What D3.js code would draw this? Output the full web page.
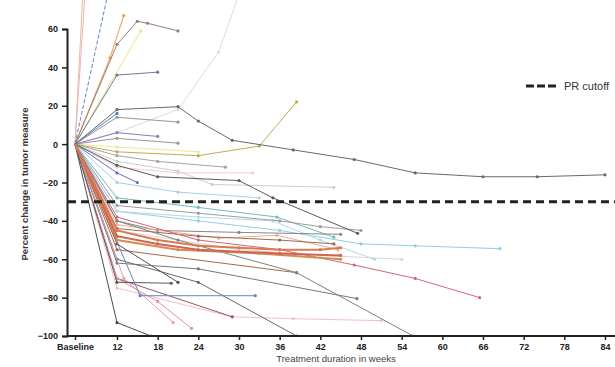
<!doctype html>
<html>
<head>
  <meta charset="utf-8">
  <style>
    body { margin: 0; background: #fff; }
    svg { display: block; font-family: "Liberation Sans", Arial, sans-serif; }
  </style>
  <script src="https://cdn.jsdelivr.net/npm/d3@7"></script>
</head>
<body>
  <script>
  // x ticks (weeks) and their labels
  var weekTicks = [0, 12, 18, 24, 30, 36, 42, 48, 54, 60, 66, 72, 78, 84];
  var weekLabels = ["Baseline", "12", "18", "24", "30", "36", "42", "48", "54", "60", "66", "72", "78", "84"];
  var pctTicks = [60, 40, 20, 0, -20, -40, -60, -80, -100];
  var prCutoff = -30;

  // one entry per patient: weeks of assessment and % change at each
  var seriesWeeks = [
    [0, 12, 21, 27, 30],
    [0, 12, 24],
    [0, 12, 21, 26, 44],
    [0, 12, 21, 32],
    [0, 12, 29, 38, 51],
    [0, 12, 30, 42, 54],
    [0, 12],
    [0, 12],
    [0, 15.5],
    [0, 12],
    [0, 10, 13],
    [0, 12, 15, 16.5, 21],
    [0, 12, 18],
    [0, 12, 21],
    [0, 12, 21],
    [0, 12],
    [0, 12, 18],
    [0, 12, 24, 33, 38.5],
    [0, 12, 18, 28],
    [0, 12, 15],
    [0, 12, 21, 33],
    [0, 12, 24, 36, 48, 56, 68.5],
    [0, 12, 24, 35.6, 44],
    [0, 12, 24, 35, 42, 50],
    [0, 12, 24, 36, 42, 48],
    [0, 12, 18, 30, 45],
    [0, 12, 27, 35.6, 44.6],
    [0, 12, 24, 36, 44],
    [0, 12, 24, 36, 47, 56, 65.5],
    [0, 12, 24, 47.4],
    [0, 12, 38.5],
    [0, 12, 21, 38.5, 55.7],
    [0, 12, 24, 38.5],
    [0, 12, 29],
    [0, 13, 20.3],
    [0, 12, 18, 23],
    [0, 12, 20],
    [0, 12, 21],
    [0, 15.4, 32.4],
    [0, 12, 17],
    [0, 12, 18, 30, 35, 47.5],
    [0, 12, 21, 33, 45],
    [0, 12, 18, 24, 36, 45],
    [0, 12, 18, 24, 30, 36, 42, 45],
    [0, 12, 21, 24, 29, 38, 47, 56, 66, 74, 84]
  ];
  var seriesValues = [
    [0, 6, 18, 48, 78],
    [0, -1.5, -4],
    [0, -9, -14, -21, -22.5],
    [0, -12, -15, -15],
    [0, -75, -90, -91, -92],
    [0, -45, -55, -58, -60],
    [0, 420],
    [0, 330],
    [0, 59],
    [0, 100],
    [0, 45, 67],
    [0, 52, 64, 63, 59],
    [0, 36, 37.5],
    [0, 14, 11.5],
    [0, 3, 0.5],
    [0, 16],
    [0, 6, 4],
    [0, -4, -6, -1, 22],
    [0, -6, -9, -12],
    [0, -15, -20],
    [0, -20, -25, -28],
    [0, -35, -40, -45, -52, -53, -54.5],
    [0, -28, -33, -38, -48.5],
    [0, -35, -38, -40, -50, -60],
    [0, -32, -36, -40, -43, -45],
    [0, -40, -45, -46, -47],
    [0, -42, -49, -47.5, -55],
    [0, -44, -48, -50, -52],
    [0, -38, -50, -55, -63, -70, -80],
    [0, -62, -65, -80.5],
    [0, -55, -67],
    [0, -40, -50, -67, -100],
    [0, -60, -72, -100],
    [0, -70, -90],
    [0, -70, -93],
    [0, -70, -82, -96],
    [0, -72, -72.5],
    [0, -52, -72],
    [0, -79, -79],
    [0, -93, -100],
    [0, -11, -17, -19, -28, -46.5],
    [0, -50, -55, -57, -60],
    [0, -48, -52, -55, -57, -58],
    [0, -45, -50, -53, -54, -55, -55, -54],
    [0, 18, 19.5, 12, 2, -3, -8, -15, -17, -17, -16]
  ];
  var seriesColors = [
    "#d8d8d8", "#ebe39a", "#c8c8c8", "#f2c4cc", "#f0b8c4", "#d8d0d0",
    "#e0b880", "#efa8b8", "#e6e27a", "#4a74c0", "#e8903a", "#8a7060",
    "#5a6e90", "#888888", "#8a8a8a", "#3b6cc8", "#8866aa", "#b8a040",
    "#999999", "#5a5ab0", "#9cc8e8", "#8cc4e4", "#5fb3b3", "#a8d4ec",
    "#909090", "#777777", "#f0a080", "#8b5a3c", "#d0506a", "#666666",
    "#a0522d", "#707070", "#555555", "#8a4040", "#e090a0", "#d88898",
    "#444444", "#3a3a3a", "#4a7cc0", "#333333", "#444444", "#d9773a",
    "#c8503a", "#d4683a", "#555555"
  ];
  var seriesWidths = [];
  seriesValues.forEach(function(d, i) { seriesWidths.push(i >= 41 && i <= 43 ? 2 : 1); });

  var svgW = 615, svgH = 367;
  var svg = d3.select("body").append("svg")
    .attr("width", svgW)
    .attr("height", svgH);

  var x = d3.scaleLinear().domain([0, 12, 84]).range([75, 117, 605]);
  var y = d3.scaleLinear().domain([-100, 60]).range([336, 29]);

  svg.append("clipPath").attr("id", "plot")
    .append("rect").attr("x", 68).attr("y", 0).attr("width", svgW - 68).attr("height", 337);

  var line = d3.line()
    .x(function(d) { return x(d[0]); })
    .y(function(d) { return y(d[1]); });

  var g = svg.append("g").attr("clip-path", "url(#plot)").attr("opacity", 0.88);

  seriesWeeks.forEach(function(ws, i) {
    var pts = ws.map(function(w, j) { return [w, seriesValues[i][j]]; });
    g.append("path")
      .datum(pts)
      .attr("d", line)
      .attr("fill", "none")
      .attr("stroke", seriesColors[i])
      .attr("stroke-width", seriesWidths[i])
      .attr("stroke-dasharray", i === 9 ? "4,2" : null);
    g.selectAll(null)
      .data(pts.slice(1))
      .enter()
      .append("circle")
      .attr("cx", function(d) { return x(d[0]); })
      .attr("cy", function(d) { return y(d[1]); })
      .attr("r", 1.6)
      .attr("fill", seriesColors[i]);
  });

  // PR cutoff line
  svg.append("line")
    .attr("x1", 68).attr("x2", svgW)
    .attr("y1", y(prCutoff)).attr("y2", y(prCutoff))
    .attr("stroke", "#222")
    .attr("stroke-width", 3)
    .attr("stroke-dasharray", "8,5");

  // axes
  var yAxis = svg.append("g")
    .attr("transform", "translate(67,0)")
    .call(d3.axisLeft(y).tickValues(pctTicks).tickSize(5).tickPadding(4));
  var xAxis = svg.append("g")
    .attr("transform", "translate(0,336)")
    .call(d3.axisBottom(x).tickValues(weekTicks).tickSize(4).tickPadding(4)
      .tickFormat(function(d, i) { return weekLabels[i]; }));

  [yAxis, xAxis].forEach(function(ax) {
    ax.select(".domain").attr("stroke", "#222").attr("stroke-width", 2);
    ax.selectAll(".tick line").attr("stroke", "#222").attr("stroke-width", 1.5);
    ax.selectAll("text").attr("fill", "#222").attr("font-size", "9px").attr("font-weight", "bold");
  });
  xAxis.select(".domain").attr("d", "M67,0H" + svgW);

  // axis titles
  svg.append("text")
    .attr("transform", "translate(28,184) rotate(-90)")
    .attr("text-anchor", "middle")
    .attr("font-size", "9.5px")
    .attr("font-weight", "bold")
    .attr("fill", "#333")
    .text("Percent change in tumor measure");
  svg.append("text")
    .attr("x", 336).attr("y", 362)
    .attr("text-anchor", "middle")
    .attr("font-size", "9.5px")
    .attr("fill", "#444")
    .text("Treatment duration in weeks");

  // legend
  svg.append("line")
    .attr("x1", 526).attr("x2", 558).attr("y1", 86).attr("y2", 86)
    .attr("stroke", "#222").attr("stroke-width", 3).attr("stroke-dasharray", "8,3");
  svg.append("text")
    .attr("x", 564).attr("y", 90)
    .attr("font-size", "11px")
    .attr("fill", "#333")
    .text("PR cutoff");
  </script>
</body>
</html>
